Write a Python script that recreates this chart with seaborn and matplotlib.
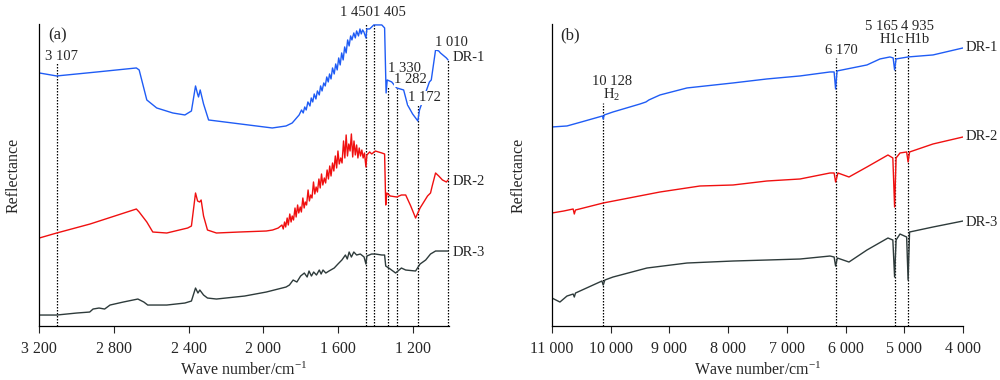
import matplotlib
matplotlib.use("Agg")
import matplotlib.pyplot as plt
import seaborn as sns
from matplotlib.ticker import FixedLocator, FuncFormatter

# (a) mid-IR, DR-1 / DR-2 / DR-3 (reflectance in arbitrary units)
wn_a1 = [3200, 3107, 2890, 2680, 2665, 2624, 2571, 2485, 2420, 2385, 2363, 2352, 2347, 2338, 2320, 2293,
         2165, 1952, 1878, 1845, 1808, 1795, 1786, 1778, 1770, 1761, 1750, 1743, 1735, 1727, 1718, 1710,
         1700, 1693, 1685, 1676, 1668, 1660, 1652, 1645, 1637, 1629, 1620, 1612, 1604, 1596, 1588, 1580,
         1572, 1564, 1556, 1548, 1540, 1532, 1525, 1515, 1507, 1500, 1490, 1482, 1475, 1468,
         1461, 1450, 1445, 1430, 1408, 1365, 1350, 1342, 1336, 1312, 1285, 1248, 1227, 1200, 1172, 1163,
         1110, 1100, 1077, 1060, 1051, 1019, 1010]
r_a1 = [253, 250, 254, 258, 256, 226, 218, 213, 211, 215, 240, 232, 229, 236, 222, 206,
        203, 198, 200, 203, 211, 216, 213, 219, 216, 224, 220, 228, 224, 232, 227, 235,
        231, 240, 235, 243, 240, 249, 244, 252, 247, 258, 252, 262, 256, 268, 261, 273,
        266, 279, 273, 286, 280, 290, 286, 293, 288, 295, 290, 297, 292, 296,
        294, 288, 297, 297, 301, 301, 298, 233, 246, 244, 238, 236, 221, 212, 205, 216,
        244, 246, 276, 275, 273, 268, 266]

wn_a2 = [3200, 3107, 2928, 2680, 2665, 2624, 2592, 2517, 2405, 2385, 2363, 2352, 2341, 2333, 2320, 2299,
         2251, 2128, 1984, 1950, 1920,
         1900, 1893, 1886, 1880, 1872, 1866, 1858, 1851, 1845, 1838, 1830, 1824, 1816, 1810, 1802, 1796,
         1788, 1781, 1775, 1768, 1760, 1753, 1746, 1739, 1731, 1724, 1717, 1710, 1702, 1695, 1688, 1681,
         1673, 1666, 1658, 1651, 1644, 1637, 1629, 1622, 1614, 1607, 1600, 1593, 1585, 1578, 1570, 1563,
         1556, 1549, 1542, 1535, 1528, 1521, 1514, 1507, 1500, 1493, 1486, 1479, 1472, 1465, 1458, 1450,
         1445, 1430, 1419, 1400, 1365, 1350, 1344, 1338, 1320, 1285, 1260, 1237, 1210, 1184, 1160, 1120,
         1104, 1095, 1077, 1060, 1040, 1019, 1010]
r_a2 = [88, 93, 102, 117, 114, 104, 94, 93, 98, 100, 133, 125, 124, 126, 110, 96,
        93, 94, 95, 96, 98,
        101, 97, 104, 99, 108, 101, 112, 104, 110, 106, 118, 109, 121, 113, 119, 114,
        128, 118, 124, 121, 136, 125, 131, 128, 144, 132, 139, 134, 147, 138, 152, 141,
        148, 143, 156, 147, 160, 150, 163, 155, 170, 158, 175, 162, 168, 163, 185, 168,
        191, 170, 182, 175, 192, 169, 185, 171, 181, 168, 178, 170, 176, 168, 173, 159,
        171, 174, 172, 175, 173, 172, 121, 133, 130, 129, 131, 131, 120, 108, 118, 130,
        133, 140, 153, 150, 146, 144, 146]

wn_a3 = [3200, 3107, 3000, 2930, 2912, 2880, 2850, 2821, 2750, 2672, 2640, 2619, 2517, 2420, 2385, 2363,
         2350, 2340, 2320, 2299, 2251, 2100, 1984, 1878, 1860, 1840, 1820, 1800, 1780, 1765, 1755, 1742,
         1730, 1715, 1700, 1690, 1680, 1665, 1648, 1620, 1600, 1579, 1560, 1550, 1540, 1528, 1515, 1500,
         1480, 1460, 1450, 1445, 1420, 1400, 1365,
         1350, 1344, 1320, 1291, 1260, 1237, 1184, 1160, 1130, 1104, 1077, 1010]
r_a3 = [11, 11, 13, 14, 17, 18, 17, 21, 24, 27, 24, 21, 21, 23, 25, 38,
        33, 36, 31, 28, 27, 30, 34, 39, 41, 46, 44, 50, 53, 49, 55, 50,
        54, 51, 56, 52, 56, 53, 55, 58, 62, 66, 71, 67, 74, 69, 74, 71,
        72, 69, 62, 70, 72, 72, 71,
        71, 60, 57, 53, 58, 56, 55, 62, 66, 72, 75, 75]

# (b) near-IR
wn_b1 = [11000, 10745, 10500, 10200, 10140, 10128, 10110, 9961, 9500, 9400, 9350, 9161, 8701, 7917, 7339,
         6776, 6265, 6195, 6170, 6145, 5636, 5414, 5244, 5190, 5165, 5140, 4935, 4511, 4000]
r_b1 = [199, 200, 204, 209, 210, 207, 211, 214, 222, 224, 226, 231, 238, 243, 247,
        250, 254, 254, 237, 255, 261, 267, 269, 268, 256, 267, 269, 271, 278]

wn_b2 = [11000, 10800, 10640, 10620, 10600, 10128, 9161, 8480, 7917, 7339, 6776, 6265, 6195, 6170, 6130,
         5942, 5636, 5278, 5195, 5165, 5140, 5073, 4960, 4935, 4910, 4511, 4000]
r_b2 = [113, 115, 117, 112, 116, 123, 134, 140, 141, 145, 147, 153, 153, 144, 153,
        149, 159, 171, 168, 119, 168, 173, 174, 164, 174, 182, 189]

wn_b3 = [11000, 10865, 10745, 10640, 10620, 10600, 10150, 10128, 10100, 9961, 9383, 8701, 7917, 7339, 6776,
         6265, 6195, 6170, 6140, 5942, 5636, 5278, 5195, 5165, 5140, 5073, 4960, 4935, 4910, 4511, 4000]
r_b3 = [28, 24, 30, 32, 29, 33, 45, 41, 46, 49, 58, 63, 65, 66, 67,
        70, 69, 60, 68, 64, 76, 88, 86, 49, 86, 92, 89, 46, 94, 99, 105]

sample_names = ["DR-1", "DR-2", "DR-3"]
colors = ["#1f5cf5", "#f01010", "#2e3b3b"]

# peak markers: wavenumber, label, label position, top of dotted line
peaks_a = [3107, 1450, 1405, 1330, 1282, 1172, 1010]
labels_a = ["3 107", "1 450", "1 405", "1 330", "1 282", "1 172", "1 010"]
lab_x_a = [3084, 1501, 1325, 1245, 1212, 1137, 993]
lab_y_a = [269, 313, 313, 257, 246, 228, 283]
top_a = [263, 303, 303, 240, 238, 223, 266]

peaks_b = [10128, 6170, 5165, 4935]
labels_b = ["10 128\nH$_2$", "6 170", "5 165", "4 935"]
lab_x_b = [9978, 6078, 5380, 4767]
lab_y_b = [237, 275, 299, 299]
top_b = [223, 268, 278, 278]

sns.set_style("white")
plt.rcParams["font.family"] = ["Liberation Serif", "DejaVu Serif"]
plt.rcParams["mathtext.fontset"] = "custom"
plt.rcParams["mathtext.rm"] = "Liberation Serif"
plt.rcParams["mathtext.it"] = "Liberation Serif:italic"

fig = plt.figure(figsize=(10, 3.8), dpi=100)
ax_a = fig.add_axes([0.0393, 0.142, 0.4097, 0.795])
ax_b = fig.add_axes([0.552, 0.142, 0.411, 0.795])

fmt = FuncFormatter(lambda v, p: f"{int(v):,}".replace(",", " "))

panels = [
    (ax_a, [(wn_a1, r_a1), (wn_a2, r_a2), (wn_a3, r_a3)], (3200, 1005), [3200, 2800, 2400, 2000, 1600, 1200],
     "(a)", 3150, 988, [268, 144, 74]),
    (ax_b, [(wn_b1, r_b1), (wn_b2, r_b2), (wn_b3, r_b3)], (11000, 4000),
     [11000, 10000, 9000, 8000, 7000, 6000, 5000, 4000], "(b)", 10864, 3949, [278, 189, 104]),
]

for ax, series, xlim, ticks, tag, tag_x, name_x, name_y in panels:
    for (wn, r), col, ny, name in zip(series, colors, name_y, sample_names):
        sns.lineplot(x=wn, y=r, ax=ax, color=col, lw=1.0, sort=False, estimator=None)
        ax.text(name_x, ny, name, fontsize=10.5, ha="left", va="center", clip_on=False)
    ax.set_xlim(*xlim)
    ax.set_ylim(0, 302)
    ax.xaxis.set_major_locator(FixedLocator(ticks))
    ax.xaxis.set_major_formatter(fmt)
    ax.set_yticks([])
    ax.tick_params(axis="x", direction="out", length=5, width=0.8, pad=6, labelsize=11.5, bottom=True)
    for s in ["top", "right"]:
        ax.spines[s].set_visible(False)
    for s in ["left", "bottom"]:
        ax.spines[s].set_color("black")
        ax.spines[s].set_linewidth(0.9)
    ax.set_xlabel("Wave number/cm$^{\\mathregular{-1}}$", fontsize=11.5)
    ax.set_ylabel("Reflectance", fontsize=11.5)
    ax.text(tag_x, 291, tag, fontsize=12, ha="left", va="center")

ax_a.yaxis.set_label_coords(-0.042, 0.5)
ax_b.yaxis.set_label_coords(-0.061, 0.5)
ax_a.xaxis.set_label_coords(0.5, -0.118)
ax_b.xaxis.set_label_coords(0.5, -0.118)

for w, lab, lx, ly, top in zip(peaks_a, labels_a, lab_x_a, lab_y_a, top_a):
    ax_a.vlines(w, 0, top, colors="black", linestyles=(0, (1.2, 1.2)), lw=0.9, zorder=1, clip_on=False)
    ax_a.text(lx, ly, lab, fontsize=10.5, ha="center", va="center", clip_on=False, zorder=5,
              bbox=dict(facecolor="white", edgecolor="none", pad=0.2))

for w, lab, lx, ly, top in zip(peaks_b, labels_b, lab_x_b, lab_y_b, top_b):
    ax_b.vlines(w, 0, top, colors="black", linestyles=(0, (1.2, 1.2)), lw=0.9, zorder=1)
    ax_b.text(lx, ly, lab, fontsize=10.5, ha="center", va="center", clip_on=False, zorder=5,
              linespacing=0.9)

ax_b.text(5210, 286, "H1c", fontsize=10.5, ha="center", va="center", clip_on=False)
ax_b.text(4784, 286, "H1b", fontsize=10.5, ha="center", va="center", clip_on=False)

fig.savefig("out.png", dpi=100)
